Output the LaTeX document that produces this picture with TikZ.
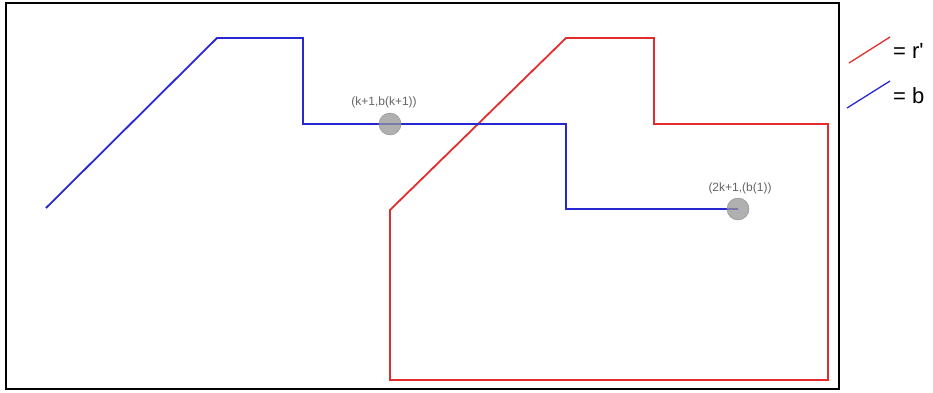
\documentclass[tikz,border=0pt]{standalone}
\usepackage{fontspec}
\setmainfont{Liberation Sans}
\begin{document}
\begin{tikzpicture}[x=1pt,y=-1pt,
  redl/.style={draw={rgb,255:red,225;green,45;blue,45},line width=1.8pt},
  bluel/.style={draw={rgb,255:red,40;green,40;blue,210},line width=1.8pt},
  pt/.style={circle,fill={rgb,255:red,150;green,150;blue,150},fill opacity=0.75,draw={rgb,255:red,140;green,140;blue,140},minimum size=22pt,inner sep=0pt},
  lbl/.style={font=\fontsize{12}{14}\selectfont,text={rgb,255:red,100;green,100;blue,100},inner sep=0pt},
  leg/.style={font=\fontsize{22}{24}\selectfont,anchor=west,inner sep=0pt}]
\useasboundingbox (0,0) rectangle (933,392);
\draw[line width=2pt] (6,3) rectangle (839,389);
% red polygon
\coordinate (r1) at (390,380);
\coordinate (r2) at (390,210);
\coordinate (r3) at (566,38);
\coordinate (r4) at (654,38);
\coordinate (r5) at (654,124);
\coordinate (r6) at (828,124);
\coordinate (r7) at (828,380);
\draw[redl] (r1) -- (r2) -- (r3) -- (r4) -- (r5) -- (r6) -- (r7) -- cycle;
% blue path
\coordinate (b1) at (46,208);
\coordinate (b2) at (217,38);
\coordinate (b3) at (303,38);
\coordinate (b4) at (303,124);
\coordinate (b5) at (566,124);
\coordinate (b6) at (566,209);
\coordinate (b7) at (738,209);
\draw[bluel] (b1) -- (b2) -- (b3) -- (b4) -- (b5) -- (b6) -- (b7);
% points
\node[pt] (p1) at (390,124) {};
\node[pt] (p2) at (b7) {};
\node[lbl] (l1) at (384,102) {(k+1,b(k+1))};
\node[lbl] (l2) at (740,188) {(2k+1,(b(1))};
% legend
\coordinate (lr1) at (849,63);
\coordinate (lr2) at (890,37);
\draw[redl,line width=1.3pt] (lr1) -- (lr2);
\node[leg] (tr) at (893,51) {= r\textquotesingle};
\coordinate (lb1) at (847,108);
\coordinate (lb2) at (890,81);
\draw[bluel,line width=1.3pt] (lb1) -- (lb2);
\node[leg] (tb) at (893,96) {= b};
\end{tikzpicture}
\end{document}
